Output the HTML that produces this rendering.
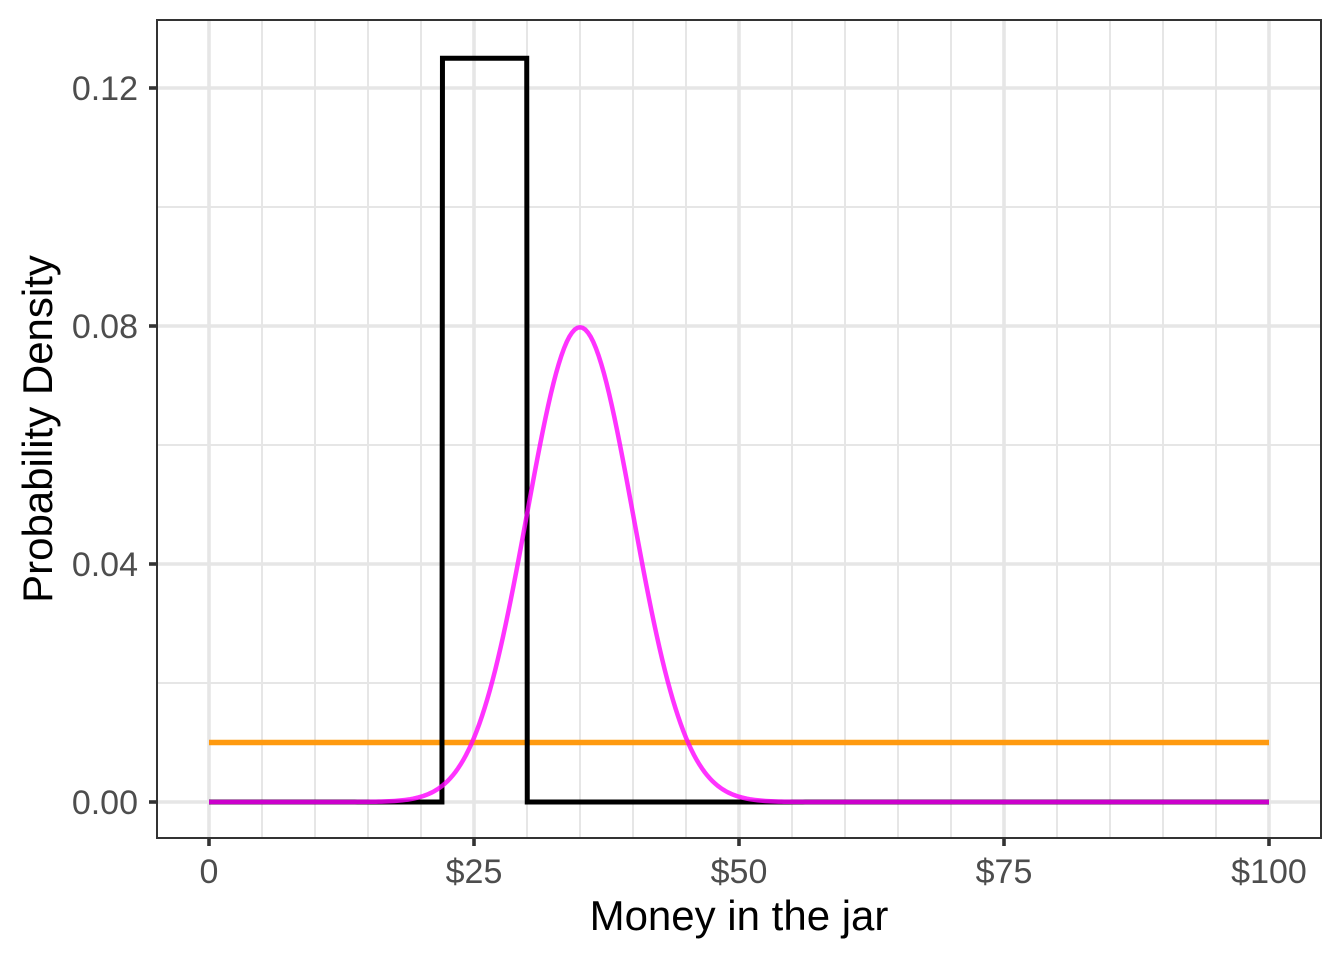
<!DOCTYPE html>
<html><head><meta charset="utf-8"><style>body{margin:0;background:#fff}svg{display:block;font-family:"Liberation Sans",sans-serif}</style></head>
<body>
<svg id="chart" width="1344" height="960"></svg>
<script>
const xTicks=[0,25,50,75,100];
const xTickLabels=["0","$25","$50","$75","$100"];
const yTicks=[0,0.04,0.08,0.12];
const yTickLabels=["0.00","0.04","0.08","0.12"];
const uniformNarrow=[22,30];       // black uniform bounds
const uniformWide=[0,100];         // orange uniform bounds
const normalParams=[35,5];         // mean, sd
const xRange=[0,100];
const NS="http://www.w3.org/2000/svg";
const svg=document.getElementById('chart');
const X=v=>209+(v-0)*10.6;
const Y=v=>802-v*5950;
function el(t,a,p){const e=document.createElementNS(NS,t);for(const k in a)e.setAttribute(k,a[k]);(p||svg).appendChild(e);return e;}
const L=157,R=1321,T=20,B=838;
const grid=el('g',{});


for(let v=0;v<=100;v+=5){if(v%25)el('line',{x1:X(v),x2:X(v),y1:T,y2:B,stroke:'#e6e6e6','stroke-width':2},grid);}
for(let v=0.02;v<0.13;v+=0.04){el('line',{x1:L,x2:R,y1:Y(v),y2:Y(v),stroke:'#e6e6e6','stroke-width':2},grid);}
xTicks.forEach(v=>el('line',{x1:X(v),x2:X(v),y1:T,y2:B,stroke:'#e6e6e6','stroke-width':3.6},grid));
yTicks.forEach(v=>el('line',{x1:L,x2:R,y1:Y(v),y2:Y(v),stroke:'#e6e6e6','stroke-width':3.6},grid));
const o=el('line',{x1:X(uniformWide[0]),x2:X(uniformWide[1]),y1:Y(1/(uniformWide[1]-uniformWide[0])),y2:Y(1/(uniformWide[1]-uniformWide[0])),stroke:'#ff9a0f','stroke-width':5.5});


const h=1/(uniformNarrow[1]-uniformNarrow[0]);
const dx=0.05;
const bp=[[xRange[0],0],[uniformNarrow[0]-dx/2,0],[uniformNarrow[0]+dx/2,h],[uniformNarrow[1]-dx/2,h],[uniformNarrow[1]+dx/2,0],[xRange[1],0]];
const b=el('polyline',{points:bp.map(p=>X(p[0])+','+Y(p[1])).join(' '),fill:'none',stroke:'#000','stroke-width':5,'stroke-linejoin':'miter'});


const pts=[];
for(let i=0;i<=400;i++){const x=xRange[0]+(xRange[1]-xRange[0])*i/400;const z=(x-normalParams[0])/normalParams[1];pts.push(X(x)+','+Y(Math.exp(-z*z/2)/(normalParams[1]*Math.sqrt(2*Math.PI))));}
const n=el('polyline',{points:pts.join(' '),fill:'none',stroke:'#ff00ff','stroke-opacity':0.8,'stroke-width':4.5});


const fr=el('rect',{x:L,y:T,width:R-L,height:B-T,fill:'none',stroke:'#333','stroke-width':2});


xTicks.forEach((v,i)=>{el('line',{x1:X(v),x2:X(v),y1:B,y2:B+8,stroke:'#333','stroke-width':3.6});
const t=el('text',{x:X(v),y:883,'text-anchor':'middle','font-size':34,fill:'#4d4d4d'});t.textContent=xTickLabels[i];

});
yTicks.forEach((v,i)=>{el('line',{x1:L-8,x2:L,y1:Y(v),y2:Y(v),stroke:'#333','stroke-width':3.6});
const t=el('text',{x:138,y:Y(v)+12,'text-anchor':'end','font-size':34,fill:'#4d4d4d'});t.textContent=yTickLabels[i];

});
const xt=el('text',{x:739,y:930,'text-anchor':'middle','font-size':42,fill:'#000'});xt.textContent='Money in the jar';


const yt=el('text',{x:0,y:0,transform:'translate(52,429) rotate(-90)','text-anchor':'middle','font-size':42,fill:'#000'});yt.textContent='Probability Density';


</script>
</body></html>
